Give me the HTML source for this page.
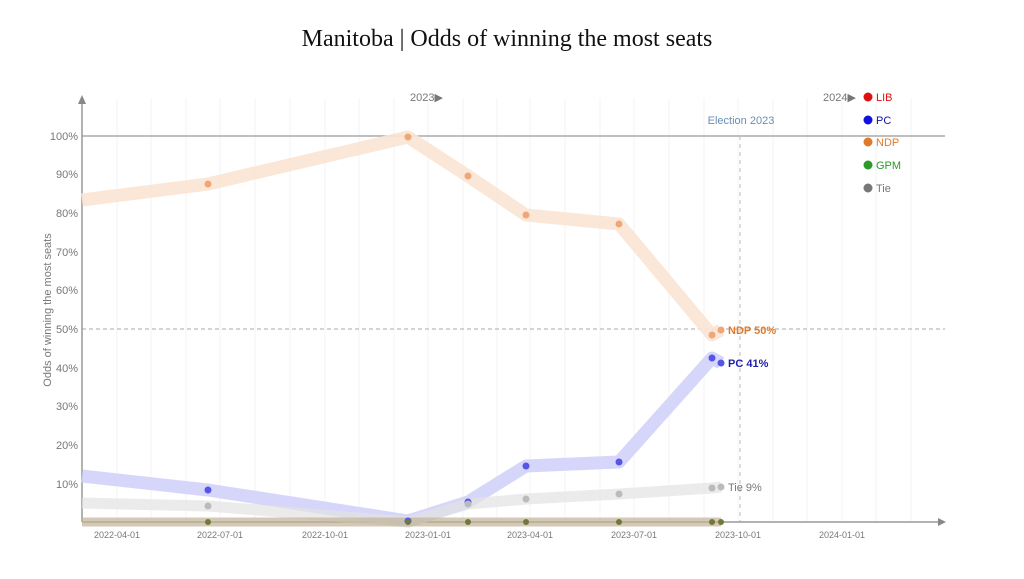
<!DOCTYPE html>
<html><head><meta charset="utf-8"><style>
body{margin:0;background:#fff;}
svg{display:block;font-family:"Liberation Sans",sans-serif;}
</style></head><body>
<svg width="1024" height="579" viewBox="0 0 1024 579">
<text x="507" y="46" text-anchor="middle" font-family="Liberation Serif,serif" font-size="24" fill="#111">Manitoba | Odds of winning the most seats</text>
<g stroke="#f3f3f3" stroke-width="1">
<line x1="117" y1="98" x2="117" y2="522"/><line x1="151" y1="98" x2="151" y2="522"/><line x1="186" y1="98" x2="186" y2="522"/>
<line x1="220" y1="98" x2="220" y2="522"/><line x1="255" y1="98" x2="255" y2="522"/><line x1="290" y1="98" x2="290" y2="522"/>
<line x1="325" y1="98" x2="325" y2="522"/><line x1="359" y1="98" x2="359" y2="522"/><line x1="394" y1="98" x2="394" y2="522"/>
<line x1="428" y1="98" x2="428" y2="522"/><line x1="463" y1="98" x2="463" y2="522"/><line x1="497" y1="98" x2="497" y2="522"/>
<line x1="530" y1="98" x2="530" y2="522"/><line x1="565" y1="98" x2="565" y2="522"/><line x1="600" y1="98" x2="600" y2="522"/>
<line x1="634" y1="98" x2="634" y2="522"/><line x1="669" y1="98" x2="669" y2="522"/><line x1="704" y1="98" x2="704" y2="522"/>
<line x1="738" y1="98" x2="738" y2="522"/><line x1="773" y1="98" x2="773" y2="522"/><line x1="807" y1="98" x2="807" y2="522"/>
<line x1="842" y1="98" x2="842" y2="522"/><line x1="876" y1="98" x2="876" y2="522"/><line x1="911" y1="98" x2="911" y2="522"/>
</g>
<line x1="82" y1="136" x2="945" y2="136" stroke="#aaa" stroke-width="1.5"/>
<line x1="82" y1="329" x2="945" y2="329" stroke="#aaa" stroke-dasharray="4,3"/>
<line x1="740" y1="136" x2="740" y2="522" stroke="#bbb" stroke-dasharray="4,4"/>
<text x="741" y="124" text-anchor="middle" font-size="11" fill="#6a8db5">Election 2023</text>
<text x="410" y="101" font-size="11" fill="#777">2023▶</text>
<text x="823" y="101" font-size="11" fill="#777">2024▶</text>
<line x1="82" y1="100" x2="82" y2="522" stroke="#999" stroke-width="1.5"/>
<polygon points="78,104 86,104 82,95" fill="#888"/>
<line x1="82" y1="522" x2="940" y2="522" stroke="#999" stroke-width="1.5"/>
<polygon points="938,518 938,526 946,522" fill="#888"/>
<g font-size="11" fill="#777" text-anchor="end">
<text x="78" y="140">100%</text><text x="78" y="178">90%</text><text x="78" y="217">80%</text><text x="78" y="256">70%</text><text x="78" y="294">60%</text><text x="78" y="333">50%</text><text x="78" y="372">40%</text><text x="78" y="410">30%</text><text x="78" y="449">20%</text><text x="78" y="488">10%</text>
</g>
<text transform="translate(51,310) rotate(-90)" text-anchor="middle" font-size="11" fill="#777">Odds of winning the most seats</text>
<g font-size="9" fill="#777" text-anchor="middle">
<text x="117" y="538">2022-04-01</text><text x="220" y="538">2022-07-01</text><text x="325" y="538">2022-10-01</text><text x="428" y="538">2023-01-01</text><text x="530" y="538">2023-04-01</text><text x="634" y="538">2023-07-01</text><text x="738" y="538">2023-10-01</text><text x="842" y="538">2024-01-01</text>
</g>
<polyline points="82,200 208,184 408,137 468,176 526,215 619,224 712,335 721,330" fill="none" stroke="#fbe4d3" stroke-width="13" stroke-linejoin="round" opacity="0.9"/>
<polyline points="82,476 208,490 408,521 468,502 526,466 619,462 712,358 721,363" fill="none" stroke="#cfcffa" stroke-width="13" stroke-linejoin="round" opacity="0.85"/>
<polyline points="82,503 208,506 408,522 468,504 526,499 619,494 712,488 721,487" fill="none" stroke="#e2e2e2" stroke-width="11" stroke-linejoin="round" opacity="0.7"/>
<line x1="82" y1="522" x2="721" y2="522" stroke="#c2b397" stroke-width="9" opacity="0.7"/>
<g fill="#eea777"><circle cx="208" cy="184" r="3.5"/><circle cx="408" cy="137" r="3.5"/><circle cx="468" cy="176" r="3.5"/><circle cx="526" cy="215" r="3.5"/><circle cx="619" cy="224" r="3.5"/><circle cx="712" cy="335" r="3.5"/><circle cx="721" cy="330" r="3.5"/></g>
<g fill="#5555e8"><circle cx="208" cy="490" r="3.5"/><circle cx="408" cy="521" r="3.5"/><circle cx="468" cy="502" r="3.5"/><circle cx="526" cy="466" r="3.5"/><circle cx="619" cy="462" r="3.5"/><circle cx="712" cy="358" r="3.5"/><circle cx="721" cy="363" r="3.5"/></g>
<g fill="#bbb"><circle cx="208" cy="506" r="3.5"/><circle cx="468" cy="504" r="3.5"/><circle cx="526" cy="499" r="3.5"/><circle cx="619" cy="494" r="3.5"/><circle cx="712" cy="488" r="3.5"/><circle cx="721" cy="487" r="3.5"/></g>
<g fill="#6f7a3a"><circle cx="208" cy="522" r="3"/><circle cx="408" cy="522" r="3"/><circle cx="468" cy="522" r="3"/><circle cx="526" cy="522" r="3"/><circle cx="619" cy="522" r="3"/><circle cx="712" cy="522" r="3"/><circle cx="721" cy="522" r="3"/></g>
<text x="728" y="334" font-size="11" font-weight="bold" fill="#e07a2a">NDP 50%</text>
<text x="728" y="367" font-size="11" font-weight="bold" fill="#2222aa">PC 41%</text>
<text x="728" y="491" font-size="11" fill="#777">Tie 9%</text>
<g font-size="11">
<circle cx="868" cy="97" r="4.5" fill="#d11"/><text x="876" y="101" fill="#d11">LIB</text>
<circle cx="868" cy="120" r="4.5" fill="#11d"/><text x="876" y="124" fill="#11a">PC</text>
<circle cx="868" cy="142" r="4.5" fill="#e07a2a"/><text x="876" y="146" fill="#e07a2a">NDP</text>
<circle cx="868" cy="165" r="4.5" fill="#2a9a2a"/><text x="876" y="169" fill="#2a9a2a">GPM</text>
<circle cx="868" cy="188" r="4.5" fill="#777"/><text x="876" y="192" fill="#777">Tie</text>
</g>
</svg>
</body></html>
